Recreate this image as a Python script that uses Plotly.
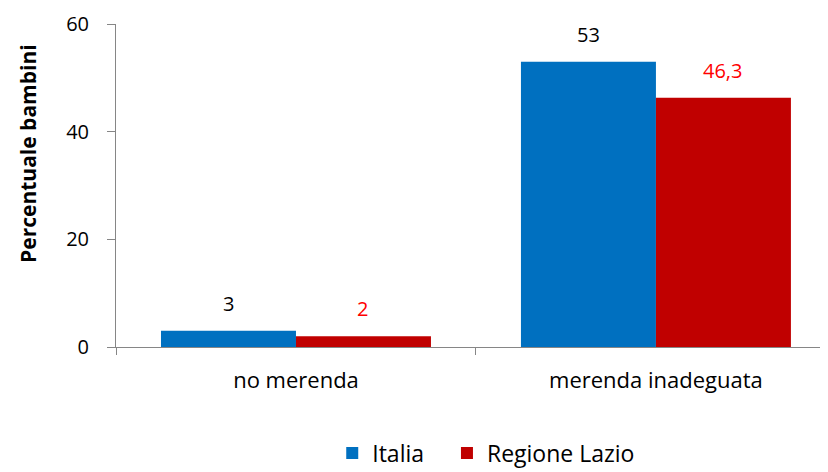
import plotly.graph_objects as go

categories = ["no merenda", "merenda inadeguata"]
italia = [3, 53]
lazio = [2, 46.3]
italia_labels = ["3", "53"]
lazio_labels = ["2", "46,3"]
series_names = ["Italia", "Regione Lazio"]
y_ticks = [0, 20, 40, 60]

BLUE = "#0070C0"
RED = "#C00000"
AXIS = "#868686"
FONT = "Open Sans"
LEGEND_PAD = "\u00a0" * 3

fig = go.Figure()
fig.add_trace(go.Bar(name=series_names[0] + LEGEND_PAD, x=categories, y=italia,
                     marker_color=BLUE, marker_line_width=0))
fig.add_trace(go.Bar(name=series_names[1], x=categories, y=lazio,
                     marker_color=RED, marker_line_width=0))

for i, c in enumerate(categories):
    fig.add_annotation(x=c, y=italia[i], text=italia_labels[i], showarrow=False,
                       xshift=-67, yshift=12, yanchor="bottom",
                       font=dict(family=FONT, size=20, color="black"))
    fig.add_annotation(x=c, y=lazio[i], text=lazio_labels[i], showarrow=False,
                       xshift=67, yshift=12, yanchor="bottom",
                       font=dict(family=FONT, size=20, color="red"))

fig.add_annotation(xref="paper", yref="paper", x=-0.124, y=0.6,
                   text="<b>Percentuale bambini</b>", textangle=-90, showarrow=False,
                   xanchor="center", yanchor="middle",
                   font=dict(family=FONT, size=21, color="black"))

fig.update_layout(
    width=820, height=464,
    margin=dict(l=108, r=0, t=16, b=125, autoexpand=False),
    paper_bgcolor="white", plot_bgcolor="white",
    barmode="group", bargap=0.25, bargroupgap=0,
    font=dict(family=FONT, size=22, color="black"),
    showlegend=True,
    legend=dict(orientation="h", x=0.52, xanchor="center", yref="paper",
                y=-0.262, yanchor="top", font=dict(family=FONT, size=23),
                traceorder="normal", itemwidth=30),
)
fig.update_xaxes(range=[-0.5, 1.478], showline=True, linecolor=AXIS, linewidth=1,
                 ticks="outside", tickson="boundaries", ticklen=7, tickcolor=AXIS,
                 showgrid=False, zeroline=False, automargin=False,
                 tickfont=dict(family=FONT, size=22), ticklabelstandoff=14)
fig.update_yaxes(range=[0, 60], tickvals=y_ticks, showline=True, linecolor=AXIS,
                 linewidth=1, ticks="outside", ticklen=8, tickcolor=AXIS,
                 showgrid=False, zeroline=False, automargin=False,
                 tickfont=dict(family=FONT, size=20), ticklabelstandoff=14)

fig.write_html("out.html")
